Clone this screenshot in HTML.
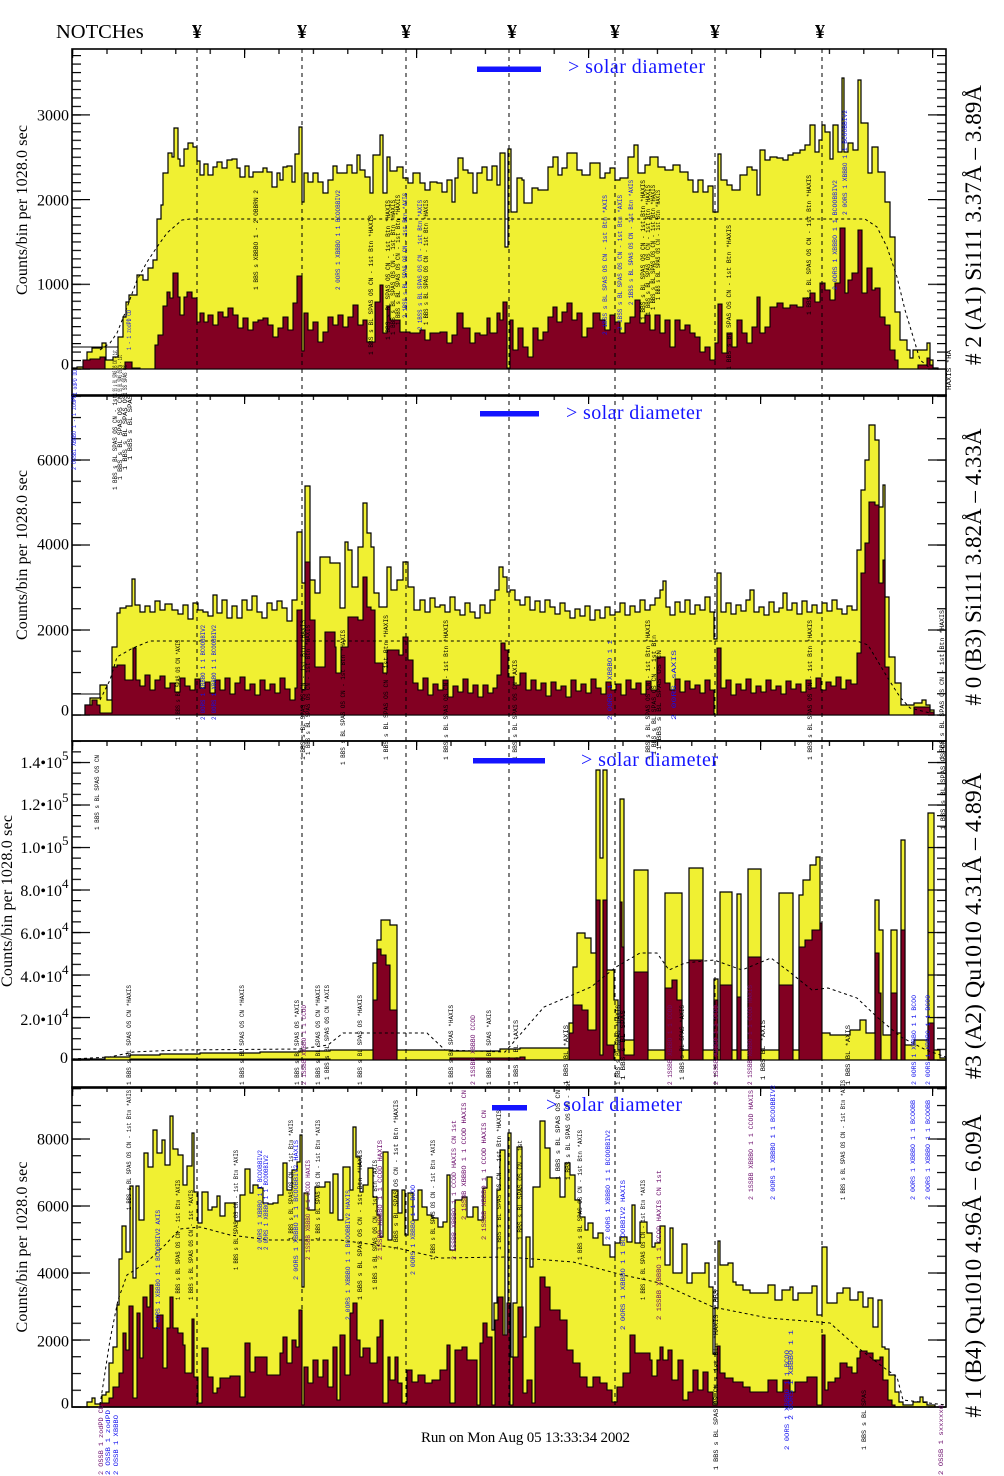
<!DOCTYPE html>
<html><head><meta charset="utf-8"><style>
html,body{margin:0;padding:0;background:#fff;}
svg{display:block;}
.t{font-family:"Liberation Serif",serif;fill:#000;}
.a{font-family:"Liberation Mono",monospace;font-size:6px;fill:#000;}
.b{font-family:"Liberation Mono",monospace;font-size:6px;fill:#1010ee;}
.c{font-family:"Liberation Mono",monospace;font-size:6px;fill:#6a0a6a;}
.y{fill:#f0f032;stroke:#000;stroke-width:1.2;}
.d{fill:#820022;stroke:#000;stroke-width:1.1;}
.ref{fill:none;stroke:#000;stroke-width:1;stroke-dasharray:3 3;}
.n{stroke:#000;stroke-width:1;stroke-dasharray:4 4;}
.leg{font-family:"Liberation Serif",serif;fill:#1414ff;font-size:20px;}
</style></head><body>
<svg width="1004" height="1476" viewBox="0 0 1004 1476" xmlns="http://www.w3.org/2000/svg">
<defs>
<pattern id="xt" x="72" y="49" width="34.4" height="346" patternUnits="userSpaceOnUse"><rect x="0" y="0" width="1.2" height="5" fill="#000"/></pattern>
<pattern id="xT" x="72" y="49" width="172" height="346" patternUnits="userSpaceOnUse"><rect x="0" y="0" width="1.2" height="9" fill="#000"/></pattern>
<pattern id="y1m" x="0" y="368.4" width="1004" height="8.47" patternUnits="userSpaceOnUse"><rect x="72" y="0" width="9" height="1.2" fill="#000"/><rect x="937" y="0" width="9" height="1.2" fill="#000"/></pattern>
<pattern id="y1M" x="0" y="368.4" width="1004" height="84.7" patternUnits="userSpaceOnUse"><rect x="72" y="0" width="18" height="1.2" fill="#000"/><rect x="928" y="0" width="18" height="1.2" fill="#000"/></pattern>
<pattern id="y2m" x="0" y="714.4" width="1004" height="21.25" patternUnits="userSpaceOnUse"><rect x="72" y="0" width="9" height="1.2" fill="#000"/><rect x="937" y="0" width="9" height="1.2" fill="#000"/></pattern>
<pattern id="y2M" x="0" y="714.4" width="1004" height="85" patternUnits="userSpaceOnUse"><rect x="72" y="0" width="18" height="1.2" fill="#000"/><rect x="928" y="0" width="18" height="1.2" fill="#000"/></pattern>
<pattern id="y3m" x="0" y="1059.4" width="1004" height="10.625" patternUnits="userSpaceOnUse"><rect x="72" y="0" width="9" height="1.2" fill="#000"/><rect x="937" y="0" width="9" height="1.2" fill="#000"/></pattern>
<pattern id="y3M" x="0" y="1059.4" width="1004" height="42.5" patternUnits="userSpaceOnUse"><rect x="72" y="0" width="18" height="1.2" fill="#000"/><rect x="928" y="0" width="18" height="1.2" fill="#000"/></pattern>
<pattern id="y4m" x="0" y="1406.4" width="1004" height="16.75" patternUnits="userSpaceOnUse"><rect x="72" y="0" width="9" height="1.2" fill="#000"/><rect x="937" y="0" width="9" height="1.2" fill="#000"/></pattern>
<pattern id="y4M" x="0" y="1406.4" width="1004" height="67" patternUnits="userSpaceOnUse"><rect x="72" y="0" width="18" height="1.2" fill="#000"/><rect x="928" y="0" width="18" height="1.2" fill="#000"/></pattern>
</defs>
<rect width="1004" height="1476" fill="#fff"/>

<!-- ============ PANEL 1 ============ -->
<path class="y" d="M72,369 V368 H77 V367 H85 V362 H87 V352 H92 V348 H102 V343 H106 V360 H113 V357 H118 V337 H123 V317 H126 V302 H129 V295 H137 V275 H143 V280 H148 V268 H153 V260 H157 V219 H161 V205 H163 V173 H168 V153 H172 V157 H174 V128 H178 V159 H180 V166 H184 V149 H188 V143 H193 V147 H197 V161 H200 V175 H204 V164 H208 V175 H213 V167 H217 V162 H222 V168 H227 V160 H232 V159 H237 V168 H240 V177 H245 V166 H249 V177 H253 V172 H263 V168 H267 V172 H272 V187 H277 V173 H280 V180 H283 V167 H287 V166 H292 V182 H295 V154 H299 V127 H302 V202 H304 V173 H308 V182 H313 V173 H318 V182 H323 V193 H328 V180 H333 V166 H337 V173 H347 V165 H352 V173 H357 V155 H360 V170 H365 V177 H370 V193 H373 V155 H380 V135 H383 V193 H387 V157 H390 V171 H397 V167 H403 V178 H408 V183 H413 V173 H420 V183 H425 V190 H430 V182 H437 V183 H442 V192 H447 V180 H452 V202 H455 V178 H458 V158 H463 V170 H468 V173 H473 V193 H477 V173 H482 V167 H487 V180 H492 V166 H497 V185 H500 V153 H505 V247 H508 V149 H511 V212 H517 V178 H522 V180 H524 V203 H532 V188 H538 V190 H548 V167 H553 V157 H558 V175 H562 V168 H567 V153 H577 V170 H582 V175 H590 V163 H600 V178 H605 V173 H610 V168 H615 V180 H620 V178 H628 V157 H634 V145 H638 V173 H645 V165 H650 V157 H658 V167 H665 V170 H673 V165 H680 V172 H688 V180 H693 V192 H698 V180 H703 V192 H708 V186 H713 V212 H718 V154 H721 V180 H727 V185 H732 V190 H740 V175 H747 V167 H752 V170 H757 V195 H760 V150 H765 V160 H770 V157 H777 V158 H783 V160 H788 V155 H793 V153 H800 V150 H805 V145 H810 V125 H815 V152 H819 V140 H822 V125 H825 V132 H830 V159 H833 V125 H838 V152 H842 V78 H844 V152 H848 V143 H853 V150 H858 V80 H861 V123 H868 V173 H872 V147 H878 V172 H885 V202 H890 V237 H895 V312 H900 V340 H907 V350 H910 V358 H913 V350 H927 V343 H930 V360 H933 V368 H938 V369 Z"/>
<path class="d" d="M72,369 H83 V360 H90 V359 H100 V357 H105 V369 H125 V362 H132 V368 H140 V369 H155 V345 H158 V335 H163 V306 H167 V292 H170 V298 H173 V273 H178 V297 H180 V315 H184 V297 H187 V292 H192 V298 H197 V322 H200 V313 H204 V322 H208 V315 H213 V325 H218 V312 H223 V317 H228 V308 H233 V315 H238 V328 H243 V318 H248 V330 H253 V322 H258 V320 H263 V318 H268 V325 H273 V337 H278 V328 H283 V317 H288 V330 H293 V303 H297 V276 H302 V351 H304 V313 H308 V330 H313 V322 H318 V342 H323 V332 H328 V317 H333 V325 H338 V315 H343 V327 H348 V317 H353 V305 H358 V325 H363 V320 H367 V342 H375 V302 H380 V285 H383 V333 H387 V306 H390 V320 H400 V332 H410 V333 H420 V330 H425 V340 H430 V333 H440 V332 H447 V343 H452 V335 H457 V313 H463 V328 H470 V343 H475 V333 H480 V335 H487 V318 H490 V333 H497 V313 H500 V320 H503 V302 H507 V368 H510 V320 H513 V350 H518 V328 H523 V347 H528 V357 H533 V328 H538 V340 H543 V332 H548 V317 H553 V307 H557 V322 H562 V312 H567 V303 H572 V320 H577 V313 H582 V337 H587 V328 H593 V313 H600 V320 H605 V330 H610 V315 H615 V322 H620 V333 H625 V323 H630 V317 H635 V300 H640 V323 H645 V315 H650 V330 H655 V315 H660 V333 H665 V320 H670 V347 H675 V320 H680 V330 H685 V325 H690 V333 H695 V337 H700 V352 H705 V347 H710 V360 H715 V343 H718 V304 H722 V353 H727 V333 H732 V347 H737 V320 H742 V333 H747 V343 H752 V327 H757 V297 H760 V333 H765 V327 H770 V307 H777 V303 H783 V308 H790 V305 H797 V307 H803 V298 H810 V293 H815 V302 H820 V283 H825 V290 H830 V300 H835 V283 H840 V228 H845 V293 H848 V280 H852 V273 H858 V230 H862 V293 H867 V268 H872 V290 H875 V288 H880 V317 H885 V325 H890 V350 H895 V360 H898 V369 H918 V365 H927 V358 H930 V365 H933 V369 Z"/>
<line x1="72" y1="347" x2="118" y2="347" stroke="#000" stroke-width="1"/>
<path class="ref" d="M100,350 L110,343 L117,333 L125,313 L137,280 L147,262 L157,247 L167,233 L182,220 L190,219 L865,219 L877,227 L887,247 L897,277 L905,310 L915,343 L920,360 L930,368"/>

<!-- ============ PANEL 2 ============ -->
<path class="y" d="M72,715 H85 V705 H90 V698 H100 V685 H107 V700 H112 V647 H117 V613 H120 V608 H126 V606 H132 V579 H135 V605 H140 V612 H145 V606 H150 V612 H155 V601 H160 V610 H165 V604 H172 V610 H178 V614 H183 V605 H188 V619 H193 V603 H198 V610 H203 V612 H208 V616 H213 V595 H217 V613 H222 V600 H227 V618 H232 V606 H237 V618 H242 V600 H247 V610 H252 V596 H257 V612 H262 V618 H267 V603 H272 V610 H277 V601 H282 V608 H287 V621 H292 V600 H297 V532 H302 V583 H305 V486 H310 V580 H315 V593 H320 V557 H330 V563 H340 V608 H345 V542 H348 V550 H352 V587 H358 V547 H363 V503 H367 V533 H371 V547 H374 V593 H379 V607 H387 V567 H391 V590 H397 V580 H403 V562 H408 V587 H414 V610 H420 V600 H425 V612 H430 V598 H435 V607 H440 V605 H445 V612 H450 V597 H455 V610 H460 V615 H465 V603 H470 V612 H475 V618 H480 V605 H485 V613 H490 V600 H495 V590 H499 V567 H503 V577 H507 V592 H510 V590 H515 V600 H520 V605 H525 V597 H530 V610 H535 V601 H540 V612 H545 V600 H550 V607 H555 V614 H560 V603 H565 V611 H570 V618 H575 V609 H580 V616 H585 V606 H590 V620 H595 V610 H600 V618 H605 V607 H610 V615 H615 V612 H620 V603 H625 V615 H630 V606 H635 V612 H640 V600 H645 V610 H650 V605 H655 V598 H660 V590 H663 V581 H666 V607 H670 V615 H675 V602 H680 V612 H685 V600 H690 V614 H695 V605 H700 V610 H705 V597 H710 V612 H714 V639 H717 V573 H721 V612 H726 V603 H731 V614 H736 V605 H741 V611 H746 V600 H750 V590 H754 V612 H759 V607 H764 V615 H769 V602 H774 V612 H779 V608 H783 V593 H787 V610 H792 V603 H797 V614 H802 V601 H807 V612 H812 V605 H817 V613 H822 V603 H827 V611 H832 V600 H837 V609 H842 V614 H847 V606 H852 V610 H857 V550 H861 V490 H865 V460 H869 V425 H875 V440 H879 V507 H883 V485 H885 V597 H889 V657 H895 V683 H901 V705 H914 V703 H922 V700 H926 V705 H930 V710 H934 V715 Z"/>
<path class="d" d="M72,715 H85 V705 H92 V700 H97 V705 H100 V713 H112 V667 H117 V665 H125 V680 H133 V648 H136 V680 H140 V686 H145 V675 H150 V690 H155 V680 H160 V676 H165 V688 H170 V683 H175 V692 H180 V678 H185 V686 H190 V690 H195 V679 H200 V688 H205 V682 H210 V693 H215 V680 H220 V690 H225 V678 H230 V694 H235 V683 H240 V677 H245 V690 H250 V684 H255 V695 H260 V680 H265 V690 H270 V684 H275 V693 H280 V678 H285 V689 H290 V700 H295 V688 H297 V610 H302 V690 H305 V562 H310 V620 H315 V667 H325 V632 H335 V647 H336 V673 H341 V647 H348 V617 H358 V620 H363 V577 H367 V607 H371 V610 H375 V663 H383 V673 H387 V650 H399 V655 H403 V637 H408 V660 H413 V683 H418 V690 H423 V678 H428 V695 H433 V684 H438 V690 H443 V680 H448 V697 H453 V686 H458 V692 H463 V679 H468 V693 H473 V685 H478 V697 H483 V685 H488 V693 H493 V688 H497 V675 H501 V643 H505 V650 H508 V677 H514 V685 H520 V673 H526 V690 H531 V680 H536 V690 H541 V683 H546 V696 H551 V682 H556 V690 H561 V686 H566 V697 H571 V680 H576 V691 H581 V684 H586 V693 H591 V679 H596 V688 H601 V694 H606 V682 H611 V690 H616 V684 H621 V695 H626 V680 H631 V689 H636 V683 H641 V694 H646 V681 H651 V690 H657 V657 H665 V683 H670 V690 H675 V679 H680 V692 H685 V681 H690 V689 H695 V685 H700 V693 H705 V680 H710 V690 H714 V715 H717 V648 H721 V688 H726 V680 H731 V695 H736 V684 H741 V690 H746 V679 H751 V693 H756 V686 H761 V692 H766 V680 H771 V690 H776 V686 H781 V694 H786 V681 H791 V689 H796 V684 H801 V692 H806 V680 H811 V688 H816 V678 H821 V690 H826 V682 H831 V686 H836 V677 H841 V689 H846 V680 H851 V684 H857 V653 H861 V573 H865 V543 H869 V502 H875 V505 H879 V583 H883 V560 H885 V667 H889 V715 H914 V707 H930 V712 H934 V715 Z"/>
<line x1="72" y1="694" x2="100" y2="694" stroke="#000" stroke-width="1"/>
<path class="ref" d="M100,700 L110,680 L117,657 L133,648 L150,641 L857,641 L868,645 L877,660 L889,680 L900,697 L910,708 L930,713"/>

<!-- ============ PANEL 3 ============ -->
<path class="y" d="M72,1060 V1059 H105 V1057 H130 V1055 H160 V1054 H200 V1053 H260 V1052 H300 V1051 H330 V1050 H373 V963 H377 V940 H381 V920 H390 V925 H397 V1050 H450 V1051 H500 V1049 H520 V1048 H569 V1023 H573 V967 H577 V933 H585 V938 H591 V953 H596 V770 H600 V858 H603 V770 H607 V970 H614 V1000 H618 V1050 H620 V799 H624 V1040 H634 V870 H648 V1050 H665 V893 H682 V1050 H689 V868 H703 V1050 H714 V979 H718 V1050 H720 V892 H732 V1050 H737 V894 H741 V1050 H748 V869 H761 V1050 H779 V893 H793 V1050 H799 V895 H803 V880 H810 V865 H816 V857 H820 V1033 H830 V1035 H850 V1030 H860 V1020 H866 V1033 H875 V900 H879 V930 H883 V1035 H891 V930 H897 V1033 H901 V840 H905 V1045 H914 V1040 H928 V813 H934 V1050 H940 V1058 H946 V1060 Z"/>
<path class="d" d="M72,1060 H130 V1059 H330 V1060 H373 V1000 H377 V949 H381 V955 H386 V965 H390 V1010 H397 V1060 H450 V1058 H520 V1057 H525 V1060 H569 V1033 H573 V1005 H582 V1010 H588 V1030 H596 V900 H600 V1055 H603 V900 H607 V1045 H614 V1060 H620 V902 H622 V947 H624 V1055 H634 V972 H648 V1060 H665 V988 H672 V980 H677 V1000 H682 V1060 H689 V960 H703 V1060 H714 V1000 H718 V1060 H720 V985 H732 V1060 H737 V997 H741 V1060 H748 V957 H761 V1060 H779 V985 H793 V1060 H799 V947 H805 V940 H812 V930 H820 V923 H822 V1060 H875 V953 H879 V993 H881 V1060 H891 V993 H897 V1060 H901 V930 H905 V1060 H928 V1023 H934 V1060 Z"/>
<path class="ref" d="M72,1059 L110,1057 L133,1052 L180,1050 L300,1049 L328,1045 L343,1033 L427,1033 L445,1050 L505,1052 L544,1007 L591,987 L616,967 L640,953 L657,953 L669,970 L685,963 L714,960 L742,970 L771,958 L787,970 L812,990 L828,988 L857,998 L877,1017 L901,1037 L926,1050 L946,1057"/>

<!-- ============ PANEL 4 ============ -->
<path class="y" d="M72,1407 H87 V1402 H92 V1398 H95 V1404 H102 V1395 H106 V1392 H109 V1363 H113 V1347 H117 V1305 H119 V1259 H122 V1226 H126 V1252 H130 V1186 H133 V1278 H136 V1186 H139 V1220 H144 V1153 H148 V1167 H153 V1130 H157 V1153 H162 V1140 H165 V1165 H170 V1116 H173 V1149 H178 V1155 H183 V1185 H187 V1166 H192 V1133 H194 V1192 H198 V1223 H202 V1192 H208 V1210 H212 V1207 H217 V1196 H220 V1216 H225 V1203 H230 V1203 H235 V1221 H240 V1195 H245 V1169 H250 V1193 H253 V1185 H258 V1188 H263 V1203 H268 V1204 H273 V1203 H278 V1195 H283 V1163 H287 V1190 H292 V1170 H297 V1162 H300 V1135 H302 V1287 H304 V1193 H308 V1210 H315 V1187 H320 V1187 H325 V1182 H330 V1213 H333 V1174 H338 V1220 H343 V1167 H350 V1190 H353 V1127 H356 V1157 H360 V1192 H363 V1185 H368 V1168 H373 V1197 H377 V1215 H380 V1237 H383 V1152 H388 V1240 H392 V1190 H398 V1213 H402 V1190 H405 V1235 H408 V1193 H413 V1220 H418 V1190 H422 V1207 H427 V1215 H432 V1218 H438 V1227 H443 V1222 H447 V1175 H450 V1250 H455 V1200 H462 V1197 H467 V1217 H473 V1207 H478 V1220 H483 V1188 H487 V1177 H492 V1330 H494 V1303 H497 V1190 H500 V1150 H505 V1363 H508 V1133 H511 V1357 H513 V1303 H517 V1147 H522 V1337 H526 V1237 H530 V1267 H533 V1187 H540 V1121 H545 V1148 H550 V1178 H560 V1197 H565 V1163 H570 V1175 H575 V1200 H580 V1217 H585 V1230 H588 V1223 H593 V1238 H598 V1233 H603 V1245 H610 V1257 H615 V1243 H620 V1237 H627 V1242 H632 V1205 H635 V1243 H640 V1222 H647 V1233 H652 V1247 H655 V1243 H660 V1226 H665 V1265 H670 V1228 H673 V1273 H682 V1244 H687 V1283 H692 V1273 H705 V1263 H709 V1287 H713 V1354 H715 V1308 H718 V1241 H720 V1265 H728 V1263 H733 V1282 H736 V1285 H743 V1290 H750 V1293 H768 V1285 H775 V1300 H782 V1290 H790 V1287 H793 V1300 H798 V1293 H812 V1286 H817 V1315 H822 V1247 H827 V1303 H837 V1293 H843 V1288 H850 V1300 H858 V1292 H863 V1307 H868 V1298 H873 V1327 H878 V1300 H882 V1347 H885 V1349 H889 V1375 H895 V1392 H899 V1402 H903 V1405 H913 V1402 H920 V1397 H923 V1402 H927 V1405 H935 V1407 Z"/>
<path class="d" d="M72,1407 H100 V1403 H109 V1398 H113 V1387 H119 V1373 H123 V1333 H126 V1350 H129 V1306 H133 V1398 H137 V1313 H140 V1358 H143 V1297 H147 V1307 H150 V1285 H153 V1328 H157 V1315 H163 V1368 H167 V1328 H170 V1297 H173 V1328 H178 V1333 H183 V1345 H185 V1373 H192 V1319 H194 V1377 H198 V1403 H202 V1348 H208 V1377 H213 V1393 H217 V1388 H220 V1378 H230 V1376 H240 V1397 H245 V1343 H250 V1372 H255 V1357 H267 V1375 H280 V1353 H283 V1337 H287 V1363 H292 V1340 H296 V1347 H299 V1310 H302 V1405 H304 V1367 H308 V1383 H313 V1360 H318 V1377 H323 V1360 H328 V1387 H333 V1347 H337 V1400 H340 V1335 H345 V1375 H350 V1313 H353 V1303 H357 V1340 H360 V1357 H363 V1348 H370 V1363 H377 V1337 H380 V1320 H383 V1403 H388 V1357 H390 V1380 H395 V1357 H398 V1383 H402 V1403 H407 V1370 H412 V1382 H418 V1375 H425 V1383 H432 V1380 H440 V1370 H447 V1345 H450 V1403 H455 V1350 H462 V1347 H467 V1360 H477 V1405 H480 V1343 H483 V1323 H487 V1337 H492 V1405 H495 V1320 H498 V1297 H503 V1335 H507 V1303 H510 V1405 H513 V1357 H518 V1307 H523 V1393 H527 V1380 H532 V1403 H535 V1327 H540 V1277 H545 V1287 H550 V1310 H560 V1320 H567 V1350 H573 V1363 H580 V1377 H587 V1387 H593 V1377 H600 V1383 H607 V1390 H612 V1402 H617 V1387 H623 V1373 H630 V1335 H635 V1353 H650 V1360 H652 V1376 H657 V1360 H660 V1347 H663 V1360 H668 V1350 H672 V1380 H678 V1360 H683 V1400 H688 V1392 H693 V1370 H698 V1390 H703 V1372 H708 V1392 H713 V1405 H717 V1346 H720 V1373 H725 V1378 H733 V1382 H743 V1387 H750 V1392 H768 V1380 H777 V1392 H783 V1380 H790 V1392 H795 V1382 H807 V1377 H817 V1405 H822 V1335 H825 V1390 H828 V1382 H835 V1378 H840 V1363 H847 V1367 H852 V1373 H857 V1358 H860 V1351 H867 V1353 H873 V1360 H880 V1357 H883 V1380 H888 V1400 H892 V1405 H895 V1407 Z"/>
<path class="ref" d="M100,1405 L110,1340 L118,1300 L127,1275 L147,1262 L165,1245 L180,1229 L200,1227 L230,1235 L270,1240 L340,1240 L397,1248 L440,1258 L507,1257 L573,1262 L623,1275 L660,1283 L713,1307 L768,1318 L830,1323 L857,1347 L883,1367 L897,1377 L903,1400 L946,1405"/>

<!-- notch lines -->
<g class="n">
<line x1="197" y1="49" x2="197" y2="1407"/>
<line x1="302" y1="49" x2="302" y2="1407"/>
<line x1="406" y1="49" x2="406" y2="1407"/>
<line x1="509" y1="49" x2="509" y2="1407"/>
<line x1="615" y1="49" x2="615" y2="1407"/>
<line x1="715" y1="49" x2="715" y2="1407"/>
<line x1="822" y1="49" x2="822" y2="1407"/>
</g>

<!-- ticks -->
<rect x="72" y="49" width="875" height="1360" fill="url(#xt)"/>
<rect x="72" y="49" width="875" height="1360" fill="url(#xT)"/>
<rect x="0" y="49" width="1004" height="321" fill="url(#y1m)"/>
<rect x="0" y="49" width="1004" height="321" fill="url(#y1M)"/>
<rect x="0" y="395" width="1004" height="321" fill="url(#y2m)"/>
<rect x="0" y="395" width="1004" height="321" fill="url(#y2M)"/>
<rect x="0" y="741" width="1004" height="320" fill="url(#y3m)"/>
<rect x="0" y="741" width="1004" height="320" fill="url(#y3M)"/>
<rect x="0" y="1087" width="1004" height="321" fill="url(#y4m)"/>
<rect x="0" y="1087" width="1004" height="321" fill="url(#y4M)"/>

<!-- frames -->
<g fill="none" stroke="#000" stroke-width="1.6">
<rect x="72" y="49" width="874" height="347"/>
<rect x="72" y="395" width="874" height="346"/>
<rect x="72" y="741" width="874" height="347"/>
<rect x="72" y="1087" width="874" height="320"/>
</g>

<!-- small annotations -->
<g>
<text class="b" transform="translate(77,395) rotate(-90)" textLength="25" lengthAdjust="spacingAndGlyphs">1 odPD DD</text>
<text class="a" transform="translate(117,395) rotate(-90)" textLength="45" lengthAdjust="spacingAndGlyphs">1 SS s BL SPAS OS CN - 1st</text>
<text class="a" transform="translate(122,395) rotate(-90)" textLength="40" lengthAdjust="spacingAndGlyphs">1 SS BL SPAS OS CN - 1st</text>
<text class="a" transform="translate(127,395) rotate(-90)" textLength="30" lengthAdjust="spacingAndGlyphs">1 SS SPAS OS</text>
<text class="b" transform="translate(131,350) rotate(-90)" textLength="40" lengthAdjust="spacingAndGlyphs">1 - 1 zodPD CD</text>
<text class="a" transform="translate(258,290) rotate(-90)" textLength="100" lengthAdjust="spacingAndGlyphs">1 BBS s  XBBBO 1 - 2 OBBRN 2</text>
<text class="b" transform="translate(340,290) rotate(-90)" textLength="100" lengthAdjust="spacingAndGlyphs">2 0ORS 1 XBBBO 1 1 BCOOBBIV2</text>
<text class="a" transform="translate(373,355) rotate(-90)" textLength="140" lengthAdjust="spacingAndGlyphs">1 BBS s  BL SPAS OS CN - 1st Btn *HAXIS</text>
<text class="a" transform="translate(390,340) rotate(-90)" textLength="140" lengthAdjust="spacingAndGlyphs">1 BBS s  BL SPAS OS CN - 1st Btn *HAXIS</text>
<text class="a" transform="translate(395,335) rotate(-90)" textLength="135" lengthAdjust="spacingAndGlyphs">1 BBS s  BL SPAS OS CN - 1st Btn *HAXIS</text>
<text class="a" transform="translate(400,325) rotate(-90)" textLength="130" lengthAdjust="spacingAndGlyphs">1 BBS s  BL SPAS OS CN - 1st Btn *HAXIS</text>
<text class="b" transform="translate(407,318) rotate(-90)" textLength="125" lengthAdjust="spacingAndGlyphs">2 1BSS s  BL SPAS OS CN - 1st Btn *AXIS</text>
<text class="b" transform="translate(422,330) rotate(-90)" textLength="130" lengthAdjust="spacingAndGlyphs">2 1BSS s  BL SPAS OS CN - 1st Btn *AXIS</text>
<text class="a" transform="translate(428,325) rotate(-90)" textLength="125" lengthAdjust="spacingAndGlyphs">1 BBS s  BL SPAS OS CN - 1st Btn *HAXIS</text>
<text class="b" transform="translate(607,335) rotate(-90)" textLength="140" lengthAdjust="spacingAndGlyphs">2 1BSS s  BL SPAS OS CN - 1st Btn *AXIS</text>
<text class="b" transform="translate(622,330) rotate(-90)" textLength="135" lengthAdjust="spacingAndGlyphs">2 1BSS s  BL SPAS OS CN - 1st Btn *AXIS</text>
<text class="b" transform="translate(633,305) rotate(-90)" textLength="125" lengthAdjust="spacingAndGlyphs">2 1BSS s  BL SPAS OS CN - 1st Btn *AXIS</text>
<text class="a" transform="translate(645,320) rotate(-90)" textLength="140" lengthAdjust="spacingAndGlyphs">1 BBS s  BL SPAS OS CN - 1st Btn *HAXIS</text>
<text class="a" transform="translate(650,315) rotate(-90)" textLength="130" lengthAdjust="spacingAndGlyphs">1 BBS s  BL SPAS OS CN - 1st Btn *HAXIS</text>
<text class="a" transform="translate(655,310) rotate(-90)" textLength="125" lengthAdjust="spacingAndGlyphs">1 BBS s  BL SPAS OS CN - 1st Btn *HAXIS</text>
<text class="a" transform="translate(660,300) rotate(-90)" textLength="110" lengthAdjust="spacingAndGlyphs">1 BBS s  BL SPAS OS CN - 1st Btn *HAXIS</text>
<text class="a" transform="translate(731,370) rotate(-90)" textLength="145" lengthAdjust="spacingAndGlyphs">1 BBS s  BL SPAS OS CN - 1st Btn *HAXIS</text>
<text class="a" transform="translate(811,315) rotate(-90)" textLength="140" lengthAdjust="spacingAndGlyphs">1 BBS s  BL SPAS OS CN - 1st Btn *HAXIS</text>
<text class="b" transform="translate(837,290) rotate(-90)" textLength="110" lengthAdjust="spacingAndGlyphs">2 0ORS 1 XBBBO 1 1 BCOOBBIV2</text>
<text class="b" transform="translate(847,215) rotate(-90)" textLength="105" lengthAdjust="spacingAndGlyphs">2 0ORS 1 XBBBO 1 1 BCOOBBIV2</text>
<text class="a" transform="translate(951,390) rotate(-90)" textLength="40" lengthAdjust="spacingAndGlyphs">HAXIS *HA</text>

<text class="b" transform="translate(76,470) rotate(-90)" textLength="75" lengthAdjust="spacingAndGlyphs">2 OSSB1 XBBBO 1 - 1 zodPD</text>
<text class="a" transform="translate(117,490) rotate(-90)" textLength="95" lengthAdjust="spacingAndGlyphs">1 BBS s  BL SPAS OS CN - 1st</text>
<text class="a" transform="translate(122,480) rotate(-90)" textLength="85" lengthAdjust="spacingAndGlyphs">1 BBS s  BL SPAS OS CN</text>
<text class="a" transform="translate(127,470) rotate(-90)" textLength="75" lengthAdjust="spacingAndGlyphs">1 BBS s  BL SPAS OS</text>
<text class="a" transform="translate(132,460) rotate(-90)" textLength="65" lengthAdjust="spacingAndGlyphs">1 BBS s BL SPAS</text>
<text class="a" transform="translate(180,720) rotate(-90)" textLength="80" lengthAdjust="spacingAndGlyphs">1 BBS s  BL SPAS OS CN *AXIS</text>
<text class="b" transform="translate(205,720) rotate(-90)" textLength="95" lengthAdjust="spacingAndGlyphs">2 0ORS 1 XBBBO 1 1 BCOOBBIV2</text>
<text class="b" transform="translate(216,720) rotate(-90)" textLength="95" lengthAdjust="spacingAndGlyphs">2 0ORS 1 XBBBO 1 1 BCOOBBIV2</text>
<text class="a" transform="translate(305,760) rotate(-90)" textLength="140" lengthAdjust="spacingAndGlyphs">1 BBS s  BL SPAS OS CN - 1st Btn *HAXIS</text>
<text class="a" transform="translate(310,755) rotate(-90)" textLength="130" lengthAdjust="spacingAndGlyphs">1 BBS s  BL SPAS OS CN - 1st Btn *HAXIS</text>
<text class="a" transform="translate(345,765) rotate(-90)" textLength="135" lengthAdjust="spacingAndGlyphs">1 BBS s  BL SPAS OS CN - 1st Btn *HAXIS</text>
<text class="a" transform="translate(388,760) rotate(-90)" textLength="145" lengthAdjust="spacingAndGlyphs">1 BBS s  BL SPAS OS CN - 1st Btn *HAXIS</text>
<text class="a" transform="translate(448,760) rotate(-90)" textLength="140" lengthAdjust="spacingAndGlyphs">1 BBS s  BL SPAS OS CN - 1st Btn *HAXIS</text>
<text class="a" transform="translate(517,760) rotate(-90)" textLength="100" lengthAdjust="spacingAndGlyphs">1 BBS s  BL SPAS OS CN *AXIS</text>
<text class="b" transform="translate(612,720) rotate(-90)" textLength="80" lengthAdjust="spacingAndGlyphs">2 0ORS 1 XBBBO 1 1</text>
<text class="a" transform="translate(650,760) rotate(-90)" textLength="140" lengthAdjust="spacingAndGlyphs">1 BBS s  BL SPAS OS CN - 1st Btn *HAXIS</text>
<text class="a" transform="translate(656,755) rotate(-90)" textLength="120" lengthAdjust="spacingAndGlyphs">1 BBS s  BL SPAS OS CN - 1st Btn</text>
<text class="a" transform="translate(661,750) rotate(-90)" textLength="100" lengthAdjust="spacingAndGlyphs">1 BBS s  BL SPAS OS CN</text>
<text class="b" transform="translate(676,720) rotate(-90)" textLength="70" lengthAdjust="spacingAndGlyphs">2 00RS sAXIS</text>
<text class="a" transform="translate(812,760) rotate(-90)" textLength="140" lengthAdjust="spacingAndGlyphs">1 BBS s  BL SPAS OS CN - 1st Btn *HAXIS</text>
<text class="a" transform="translate(944,760) rotate(-90)" textLength="150" lengthAdjust="spacingAndGlyphs">1 BBS s  BL SPAS OS CN - 1st Btn *HAXIS</text>

<text class="a" transform="translate(99,830) rotate(-90)" textLength="75" lengthAdjust="spacingAndGlyphs">1 BBS s BL SPAS OS CN</text>
<text class="a" transform="translate(131,1085) rotate(-90)" textLength="100" lengthAdjust="spacingAndGlyphs">1 BBS s  BL SPAS OS CN *HAXIS</text>
<text class="a" transform="translate(244,1085) rotate(-90)" textLength="100" lengthAdjust="spacingAndGlyphs">1 BBS s  BL SPAS OS CN *HAXIS</text>
<text class="a" transform="translate(299,1085) rotate(-90)" textLength="85" lengthAdjust="spacingAndGlyphs">1 BBS s BL SPAS OS *AXIS</text>
<text class="c" transform="translate(306,1085) rotate(-90)" textLength="80" lengthAdjust="spacingAndGlyphs">2 1SSBB XBBBO 1 1 CCOD</text>
<text class="a" transform="translate(320,1085) rotate(-90)" textLength="100" lengthAdjust="spacingAndGlyphs">1 BBS s  BL SPAS OS CN *HAXIS</text>
<text class="a" transform="translate(329,1080) rotate(-90)" textLength="95" lengthAdjust="spacingAndGlyphs">1 BBS s  BL SPAS OS CN *AXIS</text>
<text class="a" transform="translate(362,1085) rotate(-90)" textLength="90" lengthAdjust="spacingAndGlyphs">1 BBS s  BL SPAS OS *HAXIS</text>
<text class="a" transform="translate(453,1085) rotate(-90)" textLength="80" lengthAdjust="spacingAndGlyphs">1 BBS s BL SPAS *HAXIS</text>
<text class="c" transform="translate(475,1085) rotate(-90)" textLength="70" lengthAdjust="spacingAndGlyphs">2 1SSBB XBBBO CCOD</text>
<text class="a" transform="translate(491,1085) rotate(-90)" textLength="75" lengthAdjust="spacingAndGlyphs">1 BBS s BL SPAS *AXIS</text>
<text class="a" transform="translate(518,1085) rotate(-90)" textLength="65" lengthAdjust="spacingAndGlyphs">1 BBS s BL *AXIS</text>
<text class="a" transform="translate(568,1085) rotate(-90)" textLength="60" lengthAdjust="spacingAndGlyphs">1 BBS BL *AXIS</text>
<text class="a" transform="translate(620,1085) rotate(-90)" textLength="80" lengthAdjust="spacingAndGlyphs">1 BBS s BL SPAS *HAXIS</text>
<text class="a" transform="translate(625,1080) rotate(-90)" textLength="70" lengthAdjust="spacingAndGlyphs">1 BBS s BL SPAS</text>
<text class="c" transform="translate(672,1085) rotate(-90)" textLength="80" lengthAdjust="spacingAndGlyphs">2 1SSBB XBBBO 1 1 CCOD</text>
<text class="a" transform="translate(684,1080) rotate(-90)" textLength="75" lengthAdjust="spacingAndGlyphs">1 BBS s BL SPAS *AXIS</text>
<text class="c" transform="translate(718,1085) rotate(-90)" textLength="80" lengthAdjust="spacingAndGlyphs">2 1SSBB XBBBO 1 1 CCOD</text>
<text class="c" transform="translate(752,1085) rotate(-90)" textLength="100" lengthAdjust="spacingAndGlyphs">2 1SSBB XBBBO 1 1 CCOD HAXIS</text>
<text class="a" transform="translate(765,1080) rotate(-90)" textLength="60" lengthAdjust="spacingAndGlyphs">1 BBS BL *AXIS</text>
<text class="a" transform="translate(850,1085) rotate(-90)" textLength="60" lengthAdjust="spacingAndGlyphs">1 BBS BL *AXIS</text>
<text class="b" transform="translate(916,1085) rotate(-90)" textLength="90" lengthAdjust="spacingAndGlyphs">2 0ORS 1 XBBBO 1 1 BCOO</text>
<text class="b" transform="translate(930,1085) rotate(-90)" textLength="90" lengthAdjust="spacingAndGlyphs">2 0ORS 1 XBBBO 1 1 BCOO</text>
<text class="a" transform="translate(945,830) rotate(-90)" textLength="90" lengthAdjust="spacingAndGlyphs">1 BBS s BL SPAS OS CN</text>

<text class="a" transform="translate(131,1210) rotate(-90)" textLength="120" lengthAdjust="spacingAndGlyphs">1 BBS s  BL SPAS OS CN - 1st Btn *AXIS</text>
<text class="b" transform="translate(160,1330) rotate(-90)" textLength="120" lengthAdjust="spacingAndGlyphs">2 0ORS 1 XBBBO 1 1 BCOOBBIV2 AXIS</text>
<text class="a" transform="translate(180,1300) rotate(-90)" textLength="120" lengthAdjust="spacingAndGlyphs">1 BBS s  BL SPAS OS CN - 1st Btn *AXIS</text>
<text class="a" transform="translate(193,1300) rotate(-90)" textLength="110" lengthAdjust="spacingAndGlyphs">1 BBS s  BL SPAS OS CN - 1st *AXIS</text>
<text class="a" transform="translate(238,1270) rotate(-90)" textLength="120" lengthAdjust="spacingAndGlyphs">1 BBS s  BL SPAS OS CN - 1st Btn *AXIS</text>
<text class="b" transform="translate(262,1250) rotate(-90)" textLength="100" lengthAdjust="spacingAndGlyphs">2 0ORS 1 XBBBO 1 1 BCOOBBIV2</text>
<text class="b" transform="translate(268,1250) rotate(-90)" textLength="95" lengthAdjust="spacingAndGlyphs">2 0ORS 1 XBBBO 1 1 BCOOBBIV2</text>
<text class="a" transform="translate(293,1240) rotate(-90)" textLength="120" lengthAdjust="spacingAndGlyphs">1 BBS s  BL SPAS OS CN - 1st Btn *AXIS</text>
<text class="b" transform="translate(298,1280) rotate(-90)" textLength="140" lengthAdjust="spacingAndGlyphs">2 0ORS 1 XBBBO 1 1 BCOOBBIV2 HAXIS</text>
<text class="c" transform="translate(310,1260) rotate(-90)" textLength="100" lengthAdjust="spacingAndGlyphs">2 1SSBB XBBBO 1 1 CCOD HAXIS</text>
<text class="a" transform="translate(320,1240) rotate(-90)" textLength="120" lengthAdjust="spacingAndGlyphs">1 BBS s  BL SPAS OS CN - 1st Btn *AXIS</text>
<text class="b" transform="translate(350,1320) rotate(-90)" textLength="130" lengthAdjust="spacingAndGlyphs">2 0ORS 1 XBBBO 1 1 BCOOBBIV2 HAXIS</text>
<text class="a" transform="translate(362,1300) rotate(-90)" textLength="150" lengthAdjust="spacingAndGlyphs">1 BBS s  BL SPAS OS CN - 1st Btn *HAXIS</text>
<text class="a" transform="translate(377,1290) rotate(-90)" textLength="130" lengthAdjust="spacingAndGlyphs">1 BBS s  BL SPAS OS CN - 1st Btn *AXIS</text>
<text class="c" transform="translate(382,1260) rotate(-90)" textLength="120" lengthAdjust="spacingAndGlyphs">2 1SSBB XBBBO 1 1 CCOD HAXIS</text>
<text class="a" transform="translate(398,1250) rotate(-90)" textLength="150" lengthAdjust="spacingAndGlyphs">1 BBS s  BL SPAS OS CN - 1st Btn *HAXIS</text>
<text class="b" transform="translate(415,1275) rotate(-90)" textLength="90" lengthAdjust="spacingAndGlyphs">2 0ORS 1 XBBBO 1 1 BCOO</text>
<text class="a" transform="translate(435,1260) rotate(-90)" textLength="120" lengthAdjust="spacingAndGlyphs">1 BBS s  BL SPAS OS CN - 1st Btn *AXIS</text>
<text class="c" transform="translate(456,1260) rotate(-90)" textLength="140" lengthAdjust="spacingAndGlyphs">2 1SSBB XBBBO 1 1 CCOD HAXIS CN 1st</text>
<text class="c" transform="translate(466,1220) rotate(-90)" textLength="130" lengthAdjust="spacingAndGlyphs">2 1SSBB XBBBO 1 1 CCOD HAXIS CN</text>
<text class="c" transform="translate(486,1240) rotate(-90)" textLength="130" lengthAdjust="spacingAndGlyphs">2 1SSBB XBBBO 1 1 CCOD HAXIS CN</text>
<text class="a" transform="translate(501,1250) rotate(-90)" textLength="140" lengthAdjust="spacingAndGlyphs">1 BBS s  BL SPAS OS CN - 1st Btn *HAXIS</text>
<text class="a" transform="translate(522,1240) rotate(-90)" textLength="100" lengthAdjust="spacingAndGlyphs">1 BBS s  BL SPAS OS CN - 1st</text>
<text class="a" transform="translate(560,1180) rotate(-90)" textLength="90" lengthAdjust="spacingAndGlyphs">1 BBS s  BL SPAS OS CN</text>
<text class="a" transform="translate(570,1180) rotate(-90)" textLength="100" lengthAdjust="spacingAndGlyphs">1 BBS s  BL SPAS OS CN - 1st</text>
<text class="a" transform="translate(582,1260) rotate(-90)" textLength="130" lengthAdjust="spacingAndGlyphs">1 BBS s  BL SPAS OS CN - 1st Btn *AXIS</text>
<text class="b" transform="translate(610,1240) rotate(-90)" textLength="110" lengthAdjust="spacingAndGlyphs">2 0ORS 1 XBBBO 1 1 BCOOBBIV2</text>
<text class="b" transform="translate(625,1330) rotate(-90)" textLength="150" lengthAdjust="spacingAndGlyphs">2 0ORS 1 XBBBO 1 1 BCOOBBIV2 HAXIS</text>
<text class="a" transform="translate(645,1300) rotate(-90)" textLength="120" lengthAdjust="spacingAndGlyphs">1 BBS s  BL SPAS OS CN - 1st Btn *AXIS</text>
<text class="c" transform="translate(661,1320) rotate(-90)" textLength="150" lengthAdjust="spacingAndGlyphs">2 1SSBB XBBBO 1 1 CCOD HAXIS CN 1st</text>
<text class="a" transform="translate(718,1470) rotate(-90)" textLength="180" lengthAdjust="spacingAndGlyphs">1 BBS s  BL SPAS OS CN - 1st Btn *HAXIS 1 BBS</text>
<text class="c" transform="translate(753,1200) rotate(-90)" textLength="110" lengthAdjust="spacingAndGlyphs">2 1SSBB XBBBO 1 1 CCOD HAXIS</text>
<text class="b" transform="translate(775,1200) rotate(-90)" textLength="115" lengthAdjust="spacingAndGlyphs">2 0ORS 1 XBBBO 1 1 BCOOBBIV2</text>
<text class="b" transform="translate(789,1450) rotate(-90)" textLength="100" lengthAdjust="spacingAndGlyphs">2 0ORS 1 XBBBO 1 1 BCOO</text>
<text class="b" transform="translate(793,1420) rotate(-90)" textLength="90" lengthAdjust="spacingAndGlyphs">2 0ORS 1 XBBBO 1 1</text>
<text class="a" transform="translate(845,1200) rotate(-90)" textLength="120" lengthAdjust="spacingAndGlyphs">1 BBS s  BL SPAS OS CN - 1st Btn *AXIS</text>
<text class="a" transform="translate(866,1450) rotate(-90)" textLength="60" lengthAdjust="spacingAndGlyphs">1 BBS s BL SPAS</text>
<text class="b" transform="translate(915,1200) rotate(-90)" textLength="100" lengthAdjust="spacingAndGlyphs">2 0ORS 1 XBBBO 1 1 BCOOBB</text>
<text class="b" transform="translate(930,1200) rotate(-90)" textLength="100" lengthAdjust="spacingAndGlyphs">2 0ORS 1 XBBBO 1 1 BCOOBB</text>
<text class="c" transform="translate(943,1475) rotate(-90)" textLength="70" lengthAdjust="spacingAndGlyphs">2 OSSB 1 sxxxxxd</text>
<text class="c" transform="translate(103,1475) rotate(-90)" textLength="70" lengthAdjust="spacingAndGlyphs">2 OSSB 1 zodPD CD</text>
<text class="b" transform="translate(110,1475) rotate(-90)" textLength="65" lengthAdjust="spacingAndGlyphs">2 OSSB 1 zodPD</text>
<text class="b" transform="translate(118,1475) rotate(-90)" textLength="60" lengthAdjust="spacingAndGlyphs">2 OSSB 1 XBBBO</text>
</g>

<!-- top labels -->
<text class="t" x="56" y="38" font-size="20.5">NOTCHes</text>
<g class="t" font-size="20" font-weight="bold" text-anchor="middle">
<text x="197" y="38">¥</text><text x="302" y="38">¥</text><text x="406" y="38">¥</text><text x="512" y="38">¥</text><text x="615" y="38">¥</text><text x="715" y="38">¥</text><text x="820" y="38">¥</text>
</g>

<!-- y tick labels -->
<g class="t" font-size="16" text-anchor="end">
<text x="69" y="120.5">3000</text><text x="69" y="205.5">2000</text><text x="69" y="289.5">1000</text><text x="69" y="369.5">0</text>
<text x="69" y="465.5">6000</text><text x="69" y="549.5">4000</text><text x="69" y="635.5">2000</text><text x="69" y="715.5">0</text>
<text x="62" y="768">1.4•10</text><text x="62" y="810">1.2•10</text><text x="62" y="853">1.0•10</text><text x="62" y="896">8.0•10</text><text x="62" y="939">6.0•10</text><text x="62" y="982">4.0•10</text><text x="62" y="1025">2.0•10</text><text x="68" y="1063">0</text>
<text x="69" y="1144.5">8000</text><text x="69" y="1211.5">6000</text><text x="69" y="1278.5">4000</text><text x="69" y="1346.5">2000</text><text x="69" y="1408.5">0</text>
</g>
<g class="t" font-size="13">
<text x="62" y="760">5</text><text x="62" y="802">5</text><text x="62" y="845">5</text><text x="62" y="888">4</text><text x="62" y="931">4</text><text x="62" y="974">4</text><text x="62" y="1017">4</text>
</g>

<!-- y axis titles -->
<g class="t" font-size="16" text-anchor="middle" style="white-space:pre">
<text transform="translate(27,210) rotate(-90)" textLength="170">Counts/bin per   1028.0 sec</text>
<text transform="translate(27,555) rotate(-90)" textLength="170">Counts/bin per   1028.0 sec</text>
<text transform="translate(12,901) rotate(-90)" textLength="172">Counts/bin per   1028.0 sec</text>
<text transform="translate(27,1247) rotate(-90)" textLength="171">Counts/bin per   1028.0 sec</text>
</g>

<!-- right labels -->
<g class="t" font-size="23" text-anchor="middle" style="white-space:pre">
<text transform="translate(981,225) rotate(-90)" textLength="280" lengthAdjust="spacingAndGlyphs"># 2 (A1) Si111  3.37Å – 3.89Å</text>
<text transform="translate(981,567) rotate(-90)" textLength="277" lengthAdjust="spacingAndGlyphs"># 0 (B3) Si111  3.82Å – 4.33Å</text>
<text transform="translate(981,926) rotate(-90)" textLength="306" lengthAdjust="spacingAndGlyphs">#3 (A2) Qu1010  4.31Å – 4.89Å</text>
<text transform="translate(981,1266) rotate(-90)" textLength="303" lengthAdjust="spacingAndGlyphs"># 1 (B4) Qu1010 4.96Å – 6.09Å</text>
</g>

<!-- legends -->
<rect x="477" y="66.5" width="64" height="5.5" fill="#1414ff"/>
<text class="leg" x="568" y="73" textLength="137">&gt; solar diameter</text>
<rect x="480" y="411" width="59" height="5.5" fill="#1414ff"/>
<text class="leg" x="566" y="419" textLength="136">&gt; solar diameter</text>
<rect x="473" y="758" width="72" height="5.5" fill="#1414ff"/>
<text class="leg" x="581" y="766" textLength="137">&gt; solar diameter</text>
<rect x="492" y="1105" width="35" height="5.5" fill="#1414ff"/>
<text class="leg" x="546" y="1111" textLength="136">&gt; solar diameter</text>

<!-- footer -->
<text class="t" x="421" y="1442" font-size="15" textLength="209">Run on Mon Aug 05 13:33:34 2002</text>
</svg>
</body></html>
